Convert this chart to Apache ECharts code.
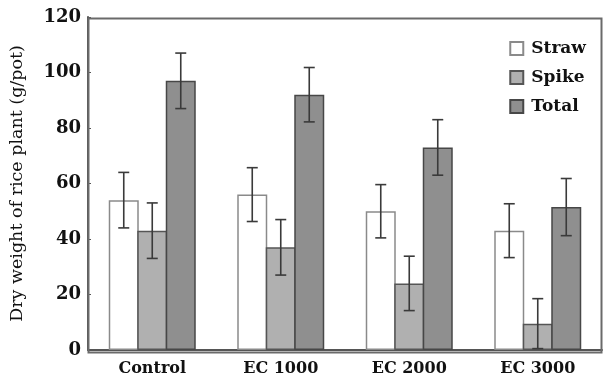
<!DOCTYPE html>
<html>
<head>
<meta charset="utf-8">
<script src="https://cdn.jsdelivr.net/npm/echarts@6/dist/echarts.min.js"></script>
<style>html,body{margin:0;padding:0;background:#fff;}#c{width:603px;height:387px;}</style>
</head>
<body>
<div id="c"></div>
<script>
const categories = ['Control', 'EC 1000', 'EC 2000', 'EC 3000'];
const seriesNames = ['Straw', 'Spike', 'Total'];
const straw = [54, 56, 50, 43];
const strawErr = [10, 9.7, 9.6, 9.7];
const spike = [43, 37, 24, 9.5];
const spikeErr = [10, 10, 9.8, 9];
const total = [97, 92, 73, 51.5];
const totalErr = [10, 9.8, 10, 10.3];
const yTicks = [0, 20, 40, 60, 80, 100, 120];

const values = [straw, spike, total];
const errs = [strawErr, spikeErr, totalErr];
const fills = ['#ffffff', '#b0b0b0', '#8f8f8f'];
const borders = ['#8a8a8a', '#555555', '#474747'];
const BW = 30;
const serif = 'DejaVu Serif';

const chart = echarts.init(document.getElementById('c'));
const series = [];
seriesNames.forEach((name, i) => {
  series.push({
    name: name, type: 'bar', data: values[i], barWidth: BW, barGap: '-5%',
    itemStyle: { color: fills[i], borderColor: borders[i], borderWidth: 1.5 },
    z: 2 + i
  });
});
seriesNames.forEach((name, i) => {
  series.push({
    type: 'custom', name: name + ' err',
    data: values[i].map((v, k) => [k, v - errs[i][k], v + errs[i][k]]),
    z: 8,
    renderItem: function (params, api) {
      const lo = api.coord([api.value(0), api.value(1)]);
      const hi = api.coord([api.value(0), api.value(2)]);
      const x = lo[0] + (i - 1) * BW * 0.95;
      const cap = 5.5;
      const st = { stroke: '#3a3a3a', lineWidth: 1.6 };
      return { type: 'group', children: [
        { type: 'line', shape: { x1: x, y1: lo[1], x2: x, y2: hi[1] }, style: st },
        { type: 'line', shape: { x1: x - cap, y1: lo[1], x2: x + cap, y2: lo[1] }, style: st },
        { type: 'line', shape: { x1: x - cap, y1: hi[1], x2: x + cap, y2: hi[1] }, style: st }
      ]};
    }
  });
});

chart.setOption({
  animation: false,
  backgroundColor: '#fff',
  grid: { left: 86, right: 1, top: 17, bottom: 37, show: false },
  graphic: [{
    type: 'rect', left: 86, top: 16, z: 10,
    shape: { width: 513, height: 334 },
    style: { fill: 'none', stroke: '#6a6a6a', lineWidth: 2 }
  }],
  legend: {
    data: seriesNames.map((n, i) => ({ name: n, itemStyle: { color: fills[i], borderColor: borders[i], borderWidth: 2 } })),
    orient: 'vertical', right: 12, top: 35, itemWidth: 13, itemHeight: 13, itemGap: 12,
    icon: 'rect',
    textStyle: { fontFamily: serif, fontWeight: 'bold', fontSize: 17, color: '#111', padding: [0, 0, 0, 3] }
  },
  xAxis: {
    type: 'category', data: categories,
    axisLine: { lineStyle: { color: '#555', width: 2 } },
    axisTick: { inside: true, length: 4, lineStyle: { color: '#555' } },
    axisLabel: { fontFamily: serif, fontWeight: 'bold', fontSize: 16, color: '#111', margin: 11 }
  },
  yAxis: {
    type: 'value', min: yTicks[0], max: yTicks[yTicks.length - 1], interval: 20,
    name: 'Dry weight of rice plant (g/pot)', nameLocation: 'middle', nameGap: 62,
    nameTextStyle: { fontFamily: serif, fontSize: 17.5, color: '#111' },
    axisLine: { show: true, lineStyle: { color: '#555', width: 2 } },
    axisTick: { show: true, inside: true, length: 3, lineStyle: { color: '#555' } },
    splitLine: { show: false },
    axisLabel: { fontFamily: serif, fontWeight: 'bold', fontSize: 18, color: '#111', margin: 7 }
  },
  series: series
});
</script>
</body>
</html>
